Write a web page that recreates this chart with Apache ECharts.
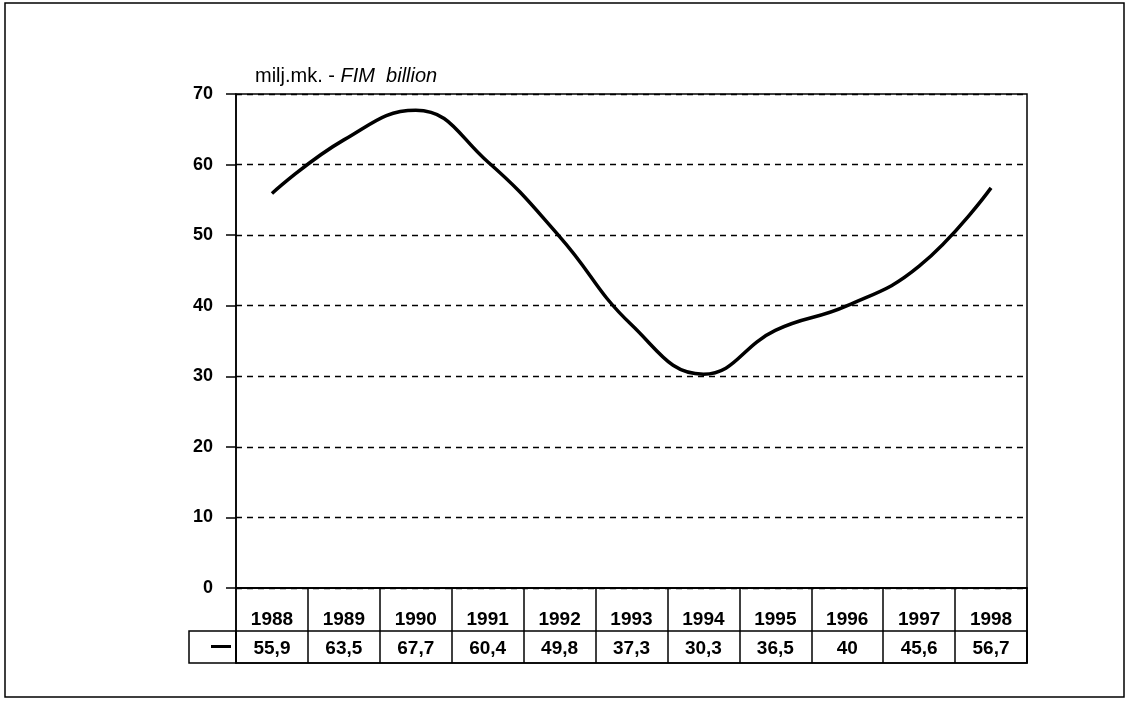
<!DOCTYPE html>
<html>
<head>
<meta charset="utf-8">
<script src="https://cdn.jsdelivr.net/npm/echarts@6/dist/echarts.min.js"></script>
<style>
  html, body { margin: 0; padding: 0; background: #fff; }
  #chart { width: 1128px; height: 701px; }
</style>
</head>
<body>
<div id="chart"></div>
<script>
const years = ['1988', '1989', '1990', '1991', '1992', '1993', '1994', '1995', '1996', '1997', '1998'];
const values = [55.9, 63.5, 67.7, 60.4, 49.8, 37.3, 30.3, 36.5, 40, 45.6, 56.7];
const valueLabels = ['55,9', '63,5', '67,7', '60,4', '49,8', '37,3', '30,3', '36,5', '40', '45,6', '56,7'];

const FONT = '"Liberation Sans", Arial, sans-serif';
const plotLeft = 236;
const plotWidth = 791;

const chart = echarts.init(document.getElementById('chart'));

const option = {
  animation: false,
  backgroundColor: '#fff',
  textStyle: { fontFamily: FONT, color: '#000' },
  title: {
    left: 250,
    top: 61,
    text: '{n|milj.mk. - }{i|FIM  billion}',
    textStyle: {
      fontWeight: 'normal',
      rich: {
        n: { fontFamily: FONT, fontSize: 20, fontWeight: 'normal', color: '#000' },
        i: { fontFamily: FONT, fontSize: 20, fontWeight: 'normal', fontStyle: 'italic', color: '#000' },
      },
    },
  },
  grid: [
    // plot
    { left: plotLeft, top: 94, width: plotWidth, height: 494, show: true, borderColor: '#000', borderWidth: 1.5 },
    // whole table (year row + value row)
    { left: plotLeft, top: 588, width: plotWidth, height: 75, show: true, borderColor: '#000', borderWidth: 1.5 },
    // value row
    { left: plotLeft, top: 631, width: plotWidth, height: 32, show: true, borderColor: '#000', borderWidth: 1.5 },
  ],
  xAxis: [
    {
      gridIndex: 0,
      type: 'category',
      data: years,
      boundaryGap: true,
      axisLine: { lineStyle: { color: '#000', width: 1.5 } },
      axisTick: { alignWithLabel: true, length: 10, lineStyle: { color: '#000', width: 1.5 } },
      axisLabel: { margin: 22, fontSize: 19, fontWeight: 'bold', color: '#000', fontFamily: FONT },
      splitLine: { show: false },
    },
    {
      gridIndex: 1,
      type: 'category',
      data: years,
      boundaryGap: true,
      axisLine: { show: false },
      axisTick: { show: false },
      axisLabel: { show: false },
      splitLine: { show: true, lineStyle: { color: '#000', width: 1.5 } },
    },
    {
      gridIndex: 2,
      type: 'category',
      data: valueLabels,
      boundaryGap: true,
      axisLine: { show: false },
      axisTick: { show: false },
      axisLabel: { inside: true, margin: 5, fontSize: 19, fontWeight: 'bold', color: '#000', fontFamily: FONT },
      splitLine: { show: false },
    },
  ],
  yAxis: [
    {
      gridIndex: 0,
      type: 'value',
      min: 0,
      max: 70,
      interval: 10,
      axisLine: { show: true, lineStyle: { color: '#000', width: 1.5 } },
      axisTick: { show: true, length: 10, lineStyle: { color: '#000', width: 1.5 } },
      axisLabel: { margin: 23, fontSize: 18, fontWeight: 'bold', color: '#000', fontFamily: FONT },
      splitLine: { show: true, lineStyle: { color: '#000', width: 1.3, type: [6, 5] } },
    },
    { gridIndex: 1, type: 'value', show: false },
    { gridIndex: 2, type: 'value', show: false },
  ],
  series: [
    {
      type: 'line',
      xAxisIndex: 0,
      yAxisIndex: 0,
      data: values,
      smooth: 0.45,
      showSymbol: false,
      lineStyle: { color: '#000', width: 3.5 },
    },
  ],
  graphic: [
    // outer frame
    { type: 'rect', shape: { x: 5, y: 3, width: 1119, height: 694 }, style: { fill: 'none', stroke: '#000', lineWidth: 1.5 }, silent: true },
    // legend cell in the value row
    { type: 'rect', shape: { x: 189, y: 631, width: 47, height: 32 }, style: { fill: 'none', stroke: '#000', lineWidth: 1.5 }, silent: true },
    { type: 'rect', shape: { x: 211, y: 645, width: 20, height: 3 }, style: { fill: '#000' }, silent: true },
  ],
};

chart.setOption(option);
</script>
</body>
</html>
